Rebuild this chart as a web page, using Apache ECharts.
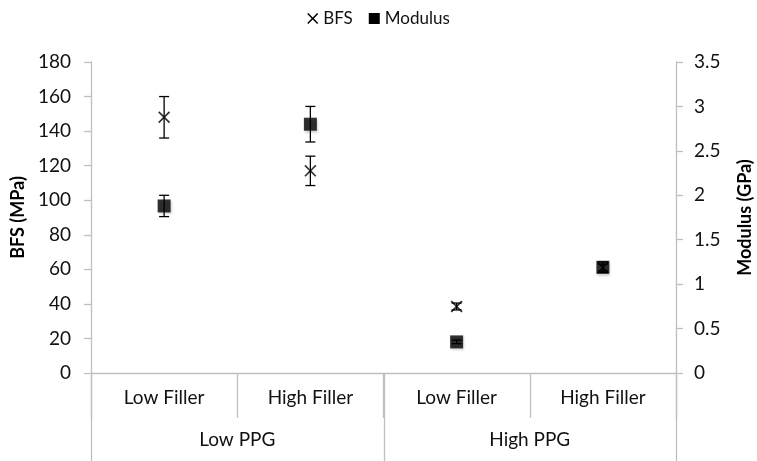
<!DOCTYPE html>
<html><head><meta charset="utf-8">
<script src="https://cdn.jsdelivr.net/npm/echarts@6/dist/echarts.min.js"></script>
<style>html,body{margin:0;padding:0;background:#fff}#c{width:757px;height:461px}</style>
</head><body><div id="c"></div>
<script>
var categories = ['Low Filler', 'High Filler', 'Low Filler', 'High Filler'];
var groups = ['Low PPG', 'High PPG'];
var bfs = [148, 117, 38.5, 61];
var bfsErr = [12, 8.5, 2, 2];
var modulus = [1.88, 2.8, 0.35, 1.19];
var modulusErr = [0.12, 0.2, 0.02, 0.06];
// group boundaries: [category index, side] (-1 = left edge of band, 1 = right edge)
var groupEdges = [[0, -1], [2, -1], [3, 1]];

var font = 'Lato, "Open Sans", sans-serif';
var xPath = 'path://M0,1L1,0L5,4L9,0L10,1L6,5L10,9L9,10L5,6L1,10L0,9L4,5Z';
var axisGray = '#bfbfbf';

function errData(vals, errs) {
  return vals.map(function (v, i) { return [i, v, errs[i]]; });
}
function renderErr(params, api) {
  var x = api.value(0), v = api.value(1), e = api.value(2);
  var top = api.coord([x, v + e]);
  var bot = api.coord([x, v - e]);
  var w = 5;
  var st = { stroke: '#000', lineWidth: 1.3 };
  return { type: 'group', children: [
    { type: 'line', shape: { x1: top[0], y1: top[1], x2: bot[0], y2: bot[1] }, style: st },
    { type: 'line', shape: { x1: top[0] - w, y1: top[1], x2: top[0] + w, y2: top[1] }, style: st },
    { type: 'line', shape: { x1: bot[0] - w, y1: bot[1], x2: bot[0] + w, y2: bot[1] }, style: st }
  ]};
}
function renderEdge(params, api) {
  var idx = api.value(0), side = api.value(1);
  var p = api.coord([idx, 0]);
  var band = api.size([1, 0])[0];
  var x = Math.round(p[0] + side * band / 2) + 0.5;
  return { type: 'line', silent: true,
    shape: { x1: x, y1: p[1], x2: x, y2: p[1] + 100 },
    style: { stroke: axisGray, lineWidth: 1.3 } };
}

var chart = echarts.init(document.getElementById('c'), null, { renderer: 'canvas' });
chart.setOption({
  animation: false,
  textStyle: { fontFamily: font },
  legend: {
    top: 5, left: 'center', itemGap: 16, itemWidth: 11, itemHeight: 11,
    textStyle: { fontSize: 17, color: '#111', fontFamily: font },
    data: [{ name: 'BFS', icon: xPath }, { name: 'Modulus', icon: 'rect' }]
  },
  grid: { left: 91, right: 81, top: 62, bottom: 88, containLabel: false, outerBoundsMode: 'none' },
  xAxis: [{
    type: 'category', data: categories, position: 'bottom',
    axisLine: { show: true, lineStyle: { color: axisGray, width: 1.3 } },
    axisTick: { show: true, interval: 0, length: 45, lineStyle: { color: axisGray, width: 1.3 } },
    axisLabel: { interval: 0, margin: 15, fontSize: 19, color: '#111', fontFamily: font }
  }, {
    type: 'category', data: groups, position: 'bottom', offset: 45,
    axisLine: { show: false },
    axisTick: { show: false },
    axisLabel: { interval: 0, margin: 12, fontSize: 19, color: '#111', fontFamily: font }
  }],
  yAxis: [{
    type: 'value', min: 0, max: 180, interval: 20, position: 'left',
    name: 'BFS (MPa)', nameLocation: 'middle', nameGap: 60, nameRotate: 90,
    nameTextStyle: { fontSize: 18, fontWeight: 'bold', color: '#000', fontFamily: font },
    axisLine: { show: true, lineStyle: { color: axisGray, width: 1.3 } },
    axisTick: { show: true, length: 7, lineStyle: { color: axisGray, width: 1.3 } },
    splitLine: { show: false },
    axisLabel: { fontSize: 19, color: '#111', margin: 20, fontFamily: font }
  }, {
    type: 'value', min: 0, max: 3.5, interval: 0.5, position: 'right',
    name: 'Modulus (GPa)', nameLocation: 'middle', nameGap: 60, nameRotate: 90,
    nameTextStyle: { fontSize: 18, fontWeight: 'bold', color: '#000', fontFamily: font },
    axisLine: { show: true, lineStyle: { color: axisGray, width: 1.3 } },
    axisTick: { show: true, length: 7, lineStyle: { color: axisGray, width: 1.3 } },
    splitLine: { show: false },
    axisLabel: { fontSize: 19, color: '#111', margin: 18, fontFamily: font }
  }],
  series: [{
    name: 'groupEdges', type: 'custom', xAxisIndex: 0, yAxisIndex: 0,
    data: groupEdges, renderItem: renderEdge, clip: false, z: 1,
    silent: true, tooltip: { show: false }
  }, {
    name: 'BFS', type: 'custom', xAxisIndex: 0, yAxisIndex: 0,
    data: errData(bfs, bfsErr), renderItem: renderErr, z: 2,
    itemStyle: { color: '#000' }, tooltip: { show: false }
  }, {
    name: 'Modulus', type: 'custom', xAxisIndex: 0, yAxisIndex: 1,
    data: errData(modulus, modulusErr), renderItem: renderErr, z: 2,
    itemStyle: { color: '#000' }, tooltip: { show: false }
  }, {
    name: 'BFS', type: 'scatter', xAxisIndex: 0, yAxisIndex: 0,
    data: bfs, symbol: xPath, symbolSize: 12, z: 3,
    itemStyle: { color: '#000' }
  }, {
    name: 'Modulus', type: 'scatter', xAxisIndex: 0, yAxisIndex: 1,
    data: modulus, symbol: 'rect', symbolSize: 13, z: 4,
    itemStyle: { color: '#000', shadowBlur: 2, shadowOffsetY: 2, shadowOffsetX: 1, shadowColor: 'rgba(0,0,0,0.2)' }
  }]
});
</script>
</body></html>
